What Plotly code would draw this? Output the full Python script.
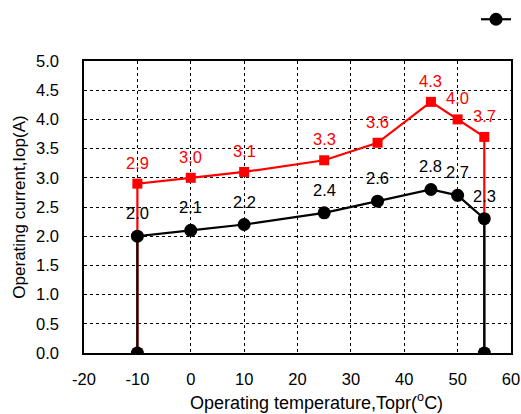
import plotly.graph_objects as go

temps = [-10, 0, 10, 25, 35, 45, 50, 55]
iop_black = [2.0, 2.1, 2.2, 2.4, 2.6, 2.8, 2.7, 2.3]
iop_red = [2.9, 3.0, 3.1, 3.3, 3.6, 4.3, 4.0, 3.7]
x_ticks = [-20, -10, 0, 10, 20, 30, 40, 50, 60]
y_ticks = [0.0, 0.5, 1.0, 1.5, 2.0, 2.5, 3.0, 3.5, 4.0, 4.5, 5.0]
x_title = "Operating temperature,Topr(<sup>o</sup>C)"
y_title = "Operating current,Iop(A)"

def closed(xs, ys):
    return [xs[0]] + xs + [xs[-1]], [0.0] + ys + [0.0]

FONT = "Liberation Sans, Arial, sans-serif"
W, H = 521, 414
L, R, T, B = 84, 10, 61, 61
PW, PH = W - L - R, H - T - B

fig = go.Figure()
rx, ry = closed(temps, iop_red)
fig.add_trace(go.Scatter(x=rx, y=ry, mode="lines+markers", name="red",
                         line=dict(color="#ff0000", width=2.2),
                         marker=dict(symbol="square", size=10, color="#ff0000"),
                         showlegend=False))
bx, by = closed(temps, iop_black)
fig.add_trace(go.Scatter(x=bx, y=by, mode="lines+markers", name=" ",
                         line=dict(color="#000000", width=2.2),
                         marker=dict(symbol="circle", size=13, color="#000000"),
                         showlegend=True))

for t, v in zip(temps, iop_red):
    fig.add_annotation(x=t, y=v, text=f"{v:.1f}", showarrow=False, yshift=21,
                       font=dict(family=FONT, size=16.5, color="#ff0000"))
for t, v in zip(temps, iop_black):
    fig.add_annotation(x=t, y=v, text=f"{v:.1f}", showarrow=False, yshift=23,
                       font=dict(family=FONT, size=16.5, color="#000000"))

fig.add_annotation(xref="paper", yref="paper", x=(316 - L) / PW, y=0,
                   yanchor="middle", yshift=-48, showarrow=False,
                   text=x_title, font=dict(family=FONT, size=18, color="black"))

fig.update_layout(
    width=W, height=H,
    margin=dict(l=L, r=R, t=T, b=B, autoexpand=False),
    paper_bgcolor="white", plot_bgcolor="white",
    font=dict(family=FONT, size=16.5, color="black"),
    legend=dict(x=(476 - L) / PW, y=1 + (T - 3) / PH,
                xanchor="left", yanchor="top", bgcolor="rgba(0,0,0,0)",
                font=dict(size=15)),
)
fig.update_xaxes(range=[-20, 60], tickvals=x_ticks, ticktext=[str(v) for v in x_ticks],
                 showgrid=True, gridcolor="#000000", griddash="dot", gridwidth=1,
                 showline=True, linecolor="black", linewidth=1.5, mirror=True,
                 zeroline=False, ticks="", ticklabelstandoff=10)
fig.update_yaxes(range=[0, 5], tickvals=y_ticks, ticktext=[f"{v:.1f}" for v in y_ticks],
                 showgrid=True, gridcolor="#000000", griddash="dot", gridwidth=1,
                 showline=True, linecolor="black", linewidth=1.5, mirror=True,
                 zeroline=False, ticks="", ticklabelstandoff=20,
                 title=dict(text=y_title, standoff=6, font=dict(size=17)))

fig.write_html("out.html", config={"displayModeBar": False},
               post_script="document.body.style.margin='0';document.body.style.overflow='hidden';")
